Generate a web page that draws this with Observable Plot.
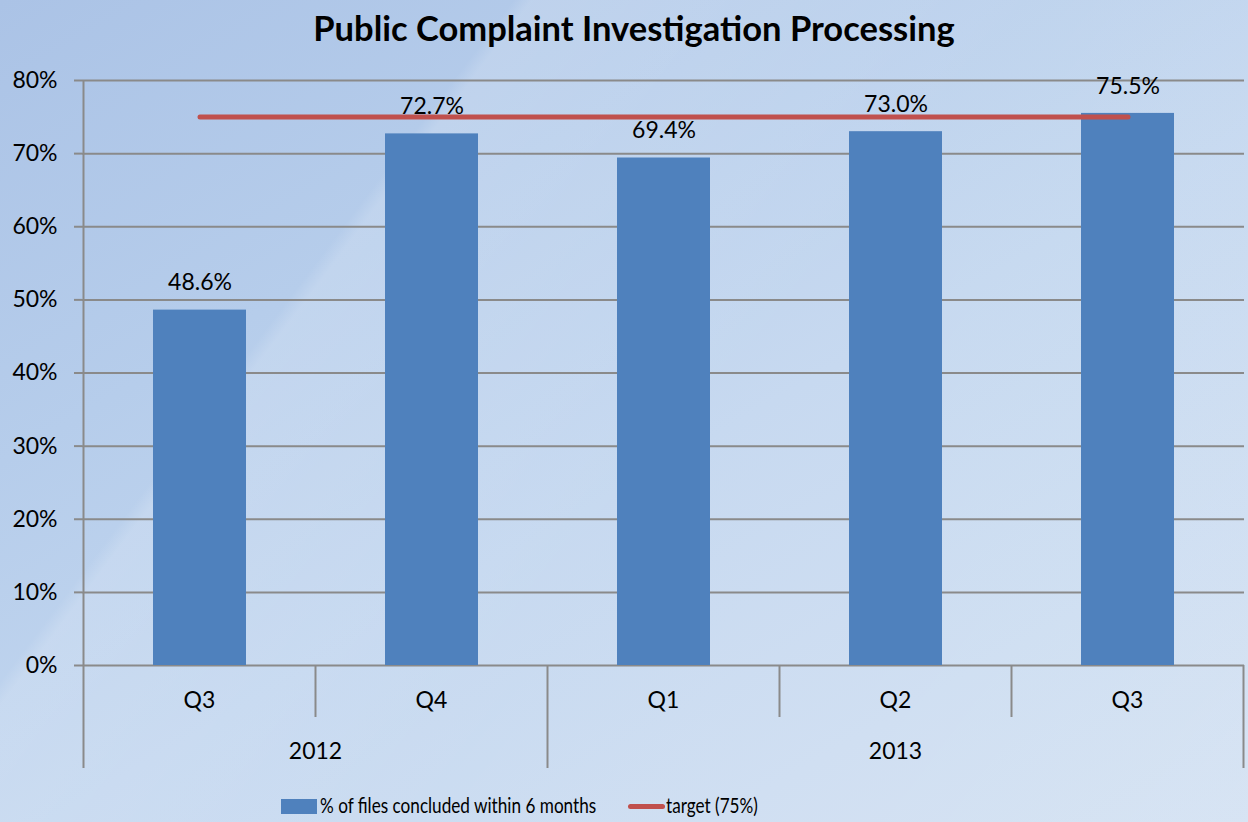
<!DOCTYPE html>
<html>
<head>
<meta charset="utf-8">
<script src="https://cdn.jsdelivr.net/npm/d3@7"></script>
<script src="https://cdn.jsdelivr.net/npm/@observablehq/plot@0.6"></script>
<style>
  html, body { margin: 0; padding: 0; }
  body {
    width: 1248px; height: 822px; overflow: hidden; position: relative;
    font-family: Lato, "Open Sans", sans-serif; color: #000;
    background:
      linear-gradient(127deg, rgba(255,255,255,0) 0%, rgba(255,255,255,0) 27.5%, rgba(255,255,255,0.16) 28.5%, rgba(255,255,255,0.08) 55%, rgba(255,255,255,0.12) 100%),
      linear-gradient(150deg, #abc3e6 0%, #b6cdeb 30%, #c2d6ef 55%, #cbdcf1 80%, #d2e0f2 100%);
  }
  #title {
    position: absolute; left: 10px; top: 0; width: 1248px; height: 56px;
    text-align: center; font-weight: bold; font-size: 34.5px; line-height: 56px;
  }
  #chart { position: absolute; left: 0; top: 55px; }
  #legend {
    position: absolute; left: 0; top: 790px; width: 1248px; height: 30px;
    font-size: 22px;
  }
  .lg { position: absolute; top: 0; height: 30px; line-height: 30px; white-space: nowrap; }
  .lt { display: inline-block; transform: scaleX(0.78); transform-origin: left center; }
</style>
</head>
<body>
<div id="title">Public Complaint Investigation Processing</div>
<div id="chart"></div>
<div id="legend"></div>
<script>
// ---- data ----
const quarters = ["Q3", "Q4", "Q1", "Q2", "Q3"];
const years = ["2012", "2012", "2013", "2013", "2013"];
const values = [0.486, 0.727, 0.694, 0.730, 0.755];
const targetValue = 0.75;
const yTicks = [0, 0.1, 0.2, 0.3, 0.4, 0.5, 0.6, 0.7, 0.8];
const seriesNames = ["% of files concluded within 6 months", "target (75%)"];
const barColor = "#4F81BD";
const lineColor = "#C0504D";

const keys = quarters.map((q, i) => years[i] + " " + q);
const data = keys.map((k, i) => ({key: k, quarter: quarters[i], year: years[i], value: values[i], target: targetValue}));

const FONT = "Lato, 'Open Sans', sans-serif";
const plot = Plot.plot({
  width: 1248,
  height: 725,
  marginTop: 25,
  marginLeft: 82,
  marginRight: 4,
  marginBottom: 115,
  style: {background: "transparent", fontFamily: FONT, fontSize: "23px", color: "#000", overflow: "visible"},
  x: {type: "band", domain: keys, paddingInner: 0.6, paddingOuter: 0.3, axis: null},
  y: {domain: [0, 0.8], axis: null},
  marks: [
    Plot.ruleY(yTicks, {stroke: "#8a8a8a", strokeWidth: 2}),
    Plot.axisY({ticks: yTicks, tickFormat: d => Math.round(d * 100) + "%", tickSize: 8, tickPadding: 17,
                stroke: "#8a8a8a", strokeWidth: 2, fontSize: 23, fill: "#000", label: null}),
    Plot.barY(data, {x: "key", y: "value", fill: barColor}),
    Plot.text(data, {x: "key", y: "value", text: d => (d.value * 100).toFixed(1) + "%", dy: -27, fontSize: 23, fill: "#000"}),
    Plot.lineY(data, {x: "key", y: "target", stroke: lineColor, strokeWidth: 5, strokeLinecap: "round"})
  ]
});
document.getElementById("chart").appendChild(plot);

// ---- two-level category axis, positioned with the plot's own scales ----
const xs = plot.scale("x");
const ys = plot.scale("y");
const svg = d3.select(plot);
const step = xs.step;
const bw = xs.bandwidth;
const y0 = ys.apply(0);
const yTop = ys.apply(0.8);
const leftOf = k => xs.apply(k) - (step - bw) / 2;
const bounds = keys.map(leftOf).concat([leftOf(keys[keys.length - 1]) + step]);
const g = svg.append("g").attr("stroke", "#8a8a8a").attr("stroke-width", 2);
g.append("line").attr("x1", bounds[0]).attr("x2", bounds[0]).attr("y1", yTop).attr("y2", y0 + 103);
bounds.forEach((bx, i) => {
  if (i === 0) return;
  const isGroup = i === bounds.length - 1 || years[i] !== years[i - 1];
  g.append("line").attr("x1", bx).attr("x2", bx).attr("y1", y0).attr("y2", y0 + (isGroup ? 103 : 52));
});
const t = svg.append("g").attr("font-size", 23).attr("fill", "#000").attr("text-anchor", "middle")
  .attr("font-family", FONT);
keys.forEach((k, i) => {
  t.append("text").attr("x", xs.apply(k) + bw / 2).attr("y", y0 + 35).attr("dy", "0.35em").text(quarters[i]);
});
const uniqueYears = [...new Set(years)];
uniqueYears.forEach(yr => {
  const idx = years.map((v, i) => v === yr ? i : -1).filter(i => i >= 0);
  const a = bounds[idx[0]], b = bounds[idx[idx.length - 1] + 1];
  t.append("text").attr("x", (a + b) / 2).attr("y", y0 + 86).attr("dy", "0.35em").text(yr);
});

// ---- legend ----
const lg = document.getElementById("legend");
lg.innerHTML =
  `<div class="lg" style="left:281px;"><span style="display:inline-block;width:36px;height:15px;background:${barColor};vertical-align:middle;margin-right:3px;position:relative;top:-1px;"></span><span class="lt">${seriesNames[0]}</span></div>` +
  `<div class="lg" style="left:628px;"><span style="display:inline-block;width:37px;height:5px;border-radius:3px;background:${lineColor};vertical-align:middle;margin-right:1px;position:relative;top:-1px;"></span><span class="lt">${seriesNames[1]}</span></div>`;
</script>
</body>
</html>
